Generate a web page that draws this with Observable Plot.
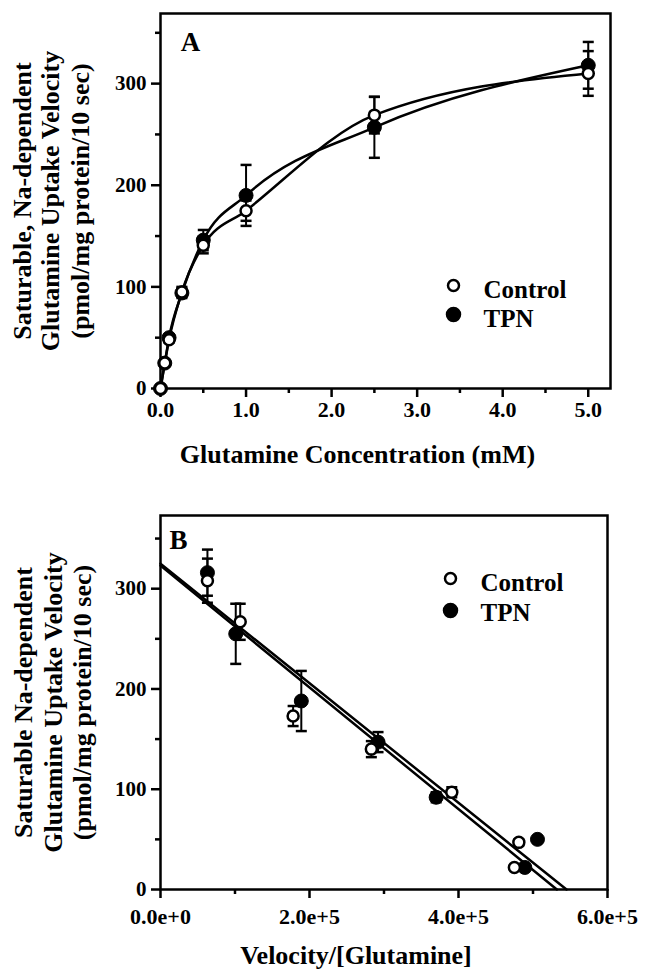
<!DOCTYPE html>
<html>
<head>
<meta charset="utf-8">
<script src="https://cdn.jsdelivr.net/npm/d3@7"></script>
<script src="https://cdn.jsdelivr.net/npm/@observablehq/plot@0.6"></script>
<style>
  html, body { margin: 0; padding: 0; background: white; }
  #chart svg { display: block; }
</style>
</head>
<body>
<div id="chart"></div>
<script>
// ---------- Panel A: velocity vs concentration ----------
const concA = [0, 0.05, 0.1, 0.25, 0.5, 1.0, 2.5, 5.0];
const controlA = [0, 25, 48, 95, 141, 175, 269, 310];
const tpnA = [0, 25, 50, 94, 146, 190, 257, 318];
const controlSE = [0, 2, 3, 5, 8, 10, 18, 22];
const tpnSE = [0, 2, 3, 5, 10, 30, 30, 23];

// ---------- Panel B: Eadie-Hofstee (conc 0.05 ... 5.0 mM) ----------
const controlBx = [475000, 481000, 391000, 283000, 178000, 107000, 63000];
const controlBy = [22, 47, 97, 140, 173, 267, 308];
const tpnBx = [489000, 506000, 370000, 292000, 189000, 101000, 63000];
const tpnBy = [22, 50, 92, 147, 188, 255, 316];
const controlBSE = [2, 3, 5, 8, 10, 18, 22];
const tpnBSE = [2, 3, 5, 10, 30, 30, 23];

// regression lines: y-intercept (Vmax) and x-intercept
const fitSeries = ["Control", "TPN"];
const fitIntercept = [323, 325];
const fitXIntercept = [532000, 545000];

// ticks & labels
const xTicksA = [0, 1, 2, 3, 4, 5];
const xMinorA = [0.5, 1.5, 2.5, 3.5, 4.5];
const xTicksB = [0, 200000, 400000, 600000];
const xMinorB = [100000, 300000, 500000];
const yTicks = [0, 100, 200, 300];
const yMinor = [50, 150, 250, 350];
const yTitleA = ["Saturable, Na-dependent", "Glutamine Uptake Velocity", "(pmol/mg protein/10 sec)"];
const yTitleB = ["Saturable Na-dependent", "Glutamine Uptake Velocity", "(pmol/mg protein/10 sec)"];
const xTitleA = "Glutamine Concentration (mM)";
const xTitleB = "Velocity/[Glutamine]";
const legendLabels = ["Control", "TPN"];

// ---------- build tables ----------
const rowsA = [
  ...concA.map((x, i) => ({series: "Control", x, y: controlA[i], se: controlSE[i]})),
  ...concA.map((x, i) => ({series: "TPN", x, y: tpnA[i], se: tpnSE[i]}))
];
const rowsB = [
  ...controlBx.map((x, i) => ({series: "Control", x, y: controlBy[i], se: controlBSE[i]})),
  ...tpnBx.map((x, i) => ({series: "TPN", x, y: tpnBy[i], se: tpnBSE[i]}))
];
const fitRows = fitSeries.flatMap((s, i) => [
  {series: s, x: 0, y: fitIntercept[i]},
  {series: s, x: fitXIntercept[i], y: 0}
]);

const font = "'Liberation Serif', 'Times New Roman', serif";
const capSymbol = {
  draw(ctx, size) {
    const h = Math.sqrt(size / Math.PI);
    ctx.moveTo(-h, 0);
    ctx.lineTo(h, 0);
  }
};

function errorMarks(rows) {
  const e = rows.filter(d => d.se > 0);
  return [
    Plot.ruleX(e, {x: "x", y1: d => d.y - d.se, y2: d => d.y + d.se, stroke: "black", strokeWidth: 2}),
    Plot.dot(e, {x: "x", y: d => d.y + d.se, symbol: capSymbol, r: 5.5, stroke: "black", strokeWidth: 2.5}),
    Plot.dot(e, {x: "x", y: d => d.y - d.se, symbol: capSymbol, r: 5.5, stroke: "black", strokeWidth: 2.5})
  ];
}

function pointMarks(rows) {
  return [
    Plot.dot(rows.filter(d => d.series === "TPN"), {x: "x", y: "y", r: 7, fill: "black", stroke: "black", strokeWidth: 1}),
    Plot.dot(rows.filter(d => d.series === "Control"), {x: "x", y: "y", r: 5.5, fill: "white", stroke: "black", strokeWidth: 2.5})
  ];
}

function yTitleMarks(lines, dxs) {
  return lines.map((t, i) => Plot.text([t], {
    text: d => d, frameAnchor: "left", dx: dxs[i], rotate: -90,
    textAnchor: "middle", lineAnchor: "middle",
    fontSize: 26, fontWeight: "bold", fill: "black"
  }));
}

function legendMarks(dx, dys, textDys) {
  const t = (label, dy) => Plot.text([label], {
    text: d => d, frameAnchor: "top-left", dx: dx + 30, dy: dy,
    textAnchor: "start", lineAnchor: "middle", fontSize: 25, fontWeight: "bold"
  });
  return [
    Plot.dot([0], {frameAnchor: "top-left", dx: dx, dy: dys[0], r: 5.5, fill: "white", stroke: "black", strokeWidth: 2.5}),
    Plot.dot([0], {frameAnchor: "top-left", dx: dx, dy: dys[1], r: 7, fill: "black", stroke: "black"}),
    t(legendLabels[0], textDys[0]),
    t(legendLabels[1], textDys[1])
  ];
}

function panelLetter(letter, dx, dy) {
  return Plot.text([letter], {
    text: d => d, frameAnchor: "top-left", dx, dy,
    textAnchor: "middle", lineAnchor: "middle", fontSize: 27, fontWeight: "bold"
  });
}

function xTitle(label) {
  return Plot.text([label], {
    text: d => d, frameAnchor: "bottom", dx: -28, dy: 66,
    textAnchor: "middle", lineAnchor: "middle", fontSize: 26, fontWeight: "bold"
  });
}

const baseStyle = {fontFamily: font, fontWeight: "bold", fontSize: "20px", color: "black", background: "white"};

const plotA = Plot.plot({
  width: 645, height: 470,
  marginTop: 13, marginLeft: 160, marginRight: 35, marginBottom: 82,
  style: baseStyle,
  x: {domain: [0, 5.26]},
  y: {domain: [0, 369]},
  marks: [
    Plot.axisY({ticks: yTicks, tickSize: 9, tickPadding: 5, strokeWidth: 2.5, label: null, fontSize: 21, tickFormat: d => String(d)}),
    Plot.axisY({ticks: yMinor, tickSize: 5, strokeWidth: 2.5, label: null, tickFormat: () => ""}),
    Plot.axisX({ticks: xTicksA, tickSize: 9, tickPadding: 4, strokeWidth: 2.5, label: null, fontSize: 22, tickFormat: d3.format(".1f")}),
    Plot.axisX({ticks: xMinorA, tickSize: 5, strokeWidth: 2.5, label: null, tickFormat: () => ""}),
    Plot.frame({stroke: "black", strokeWidth: 2.5}),
    Plot.line(rowsA, {x: "x", y: "y", z: "series", curve: "monotone-x", stroke: "black", strokeWidth: 2.5}),
    ...errorMarks(rowsA),
    ...pointMarks(rowsA),
    panelLetter("A", 30, 29),
    ...legendMarks(293, [272, 301], [276, 305]),
    ...yTitleMarks(yTitleA, [-138, -110, -80]),
    xTitle(xTitleA)
  ]
});

const plotB = Plot.plot({
  width: 645, height: 501,
  marginTop: 45, marginLeft: 160, marginRight: 38, marginBottom: 82,
  style: baseStyle,
  x: {domain: [0, 600000]},
  y: {domain: [0, 373]},
  marks: [
    Plot.axisY({ticks: yTicks, tickSize: 9, tickPadding: 5, strokeWidth: 2.5, label: null, fontSize: 21, tickFormat: d => String(d)}),
    Plot.axisY({ticks: yMinor, tickSize: 5, strokeWidth: 2.5, label: null, tickFormat: () => ""}),
    Plot.axisX({ticks: xTicksB, tickSize: 9, tickPadding: 10, strokeWidth: 2.5, label: null, fontSize: 22, tickFormat: d3.format(".1e")}),
    Plot.axisX({ticks: xMinorB, tickSize: 5, strokeWidth: 2.5, label: null, tickFormat: () => ""}),
    Plot.frame({stroke: "black", strokeWidth: 2.5}),
    Plot.line(fitRows, {x: "x", y: "y", z: "series", stroke: "black", strokeWidth: 2.5}),
    ...errorMarks(rowsB),
    ...pointMarks(rowsB),
    panelLetter("B", 18, 25),
    ...legendMarks(290, [63, 95], [67, 97]),
    ...yTitleMarks(yTitleB, [-137, -107, -78]),
    xTitle(xTitleB)
  ]
});

document.getElementById("chart").append(plotA, plotB);
</script>
</body>
</html>
